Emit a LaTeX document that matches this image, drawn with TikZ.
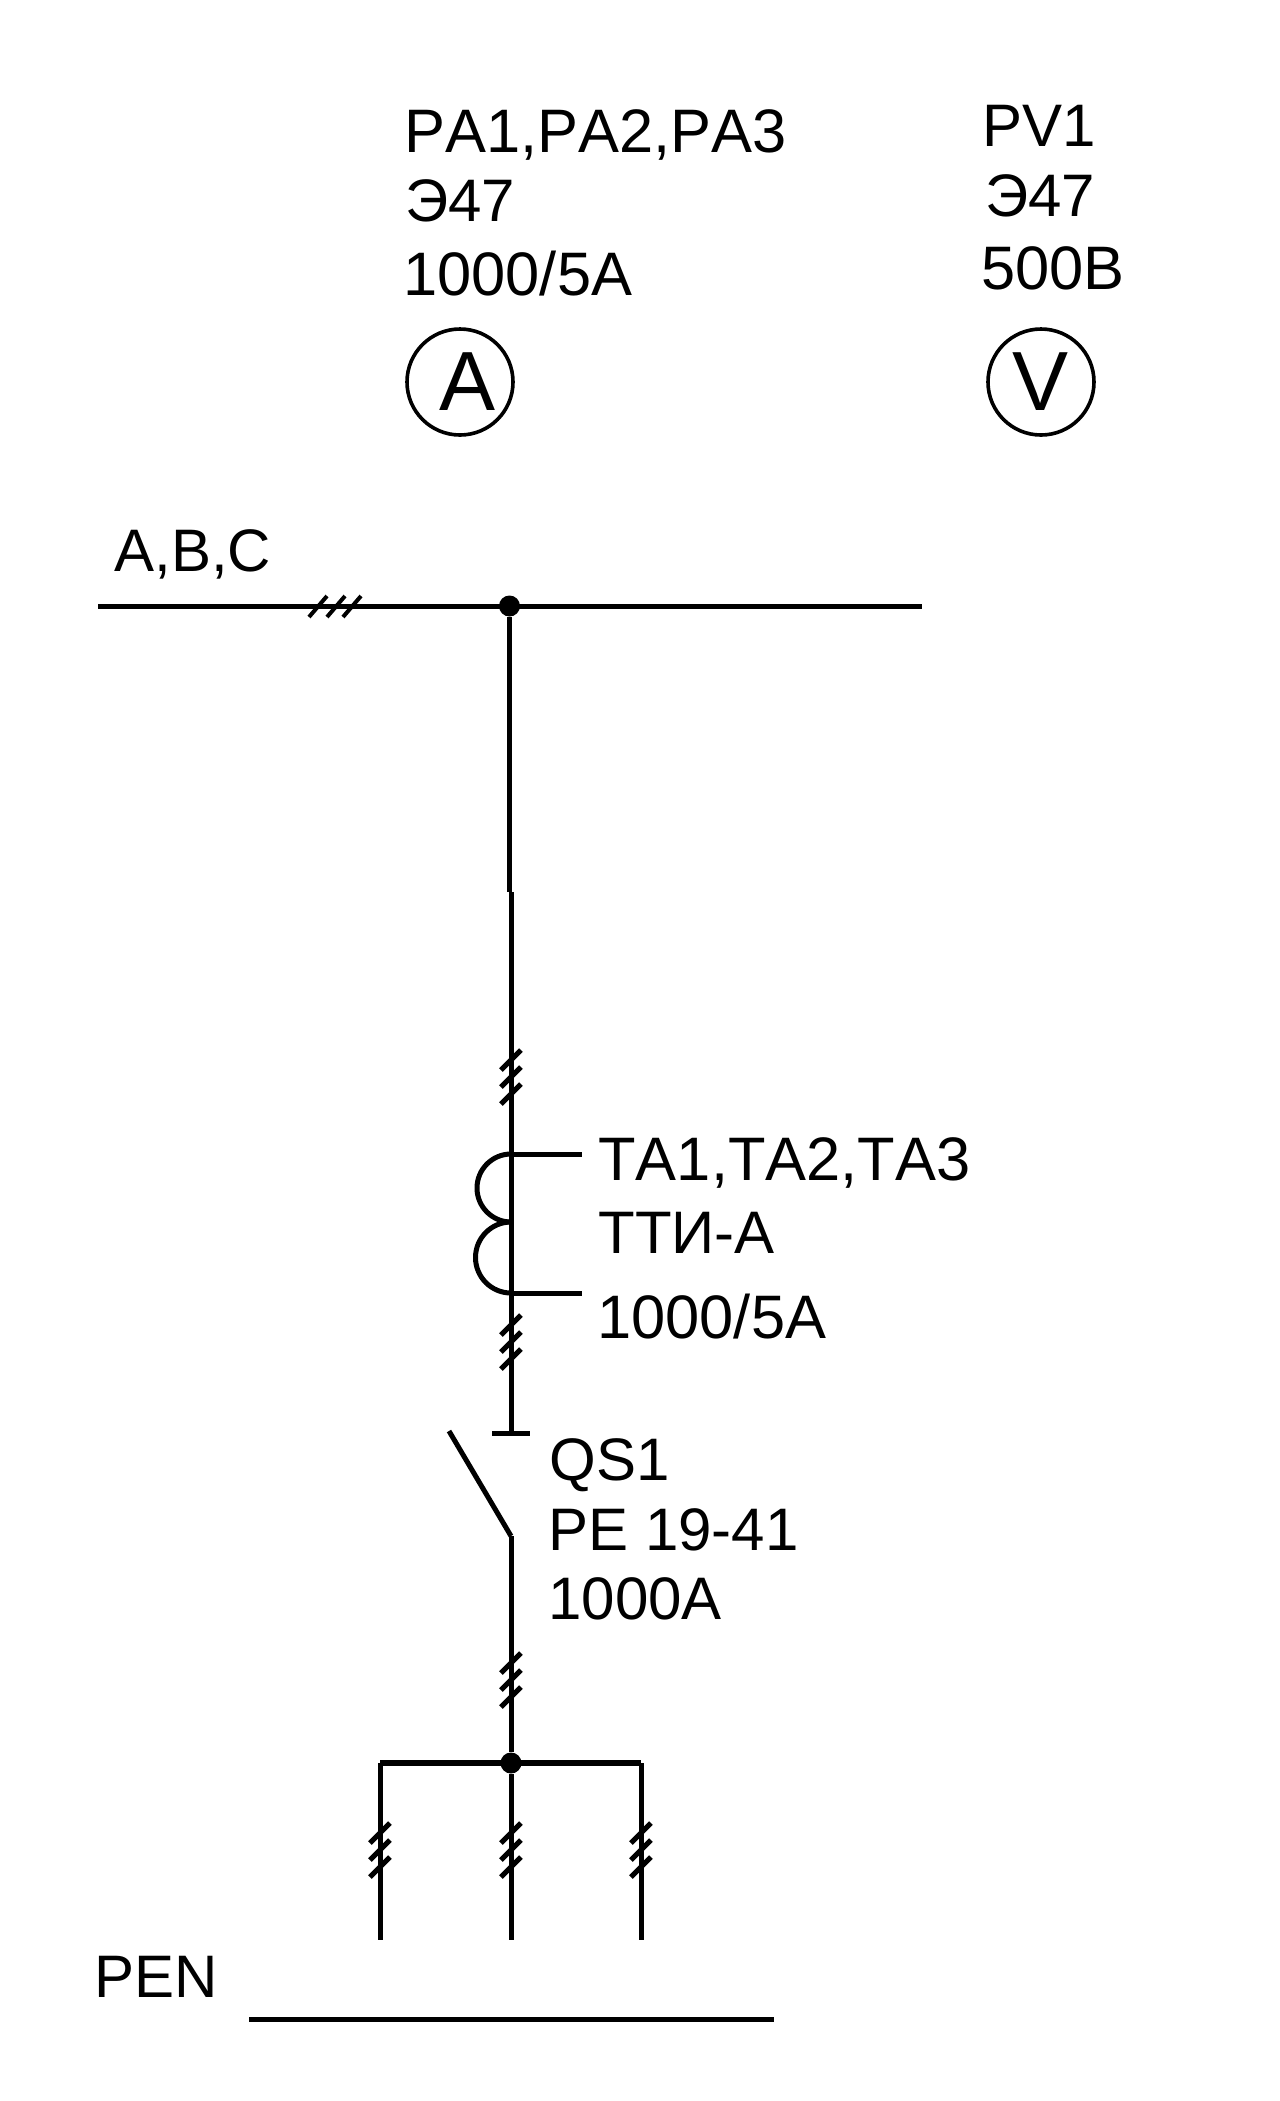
\documentclass[tikz,border=0pt]{standalone}
\usepackage{fontspec}
\setmainfont[Kerning=Off]{Liberation Sans}
\tikzset{
    wire/.style={line width=2.5pt},
    txt/.style={anchor=base west, inner sep=0pt, font=\fontsize{30}{36}\selectfont},
    widetxt/.style={txt, font=\fontsize{30.7}{36}\selectfont},
    meter/.style={draw, circle, line width=1.8pt, inner sep=0pt, minimum size=53pt, font=\fontsize{42}{50}\selectfont},
    dot/.style={circle, fill=black, inner sep=0pt, minimum size=10.5pt},
    ticks/.pic={
        \draw[wire] (-10,27) -- (10,7);
        \draw[wire] (-10,10) -- (10,-10);
        \draw[wire] (-10,-7) -- (10,-27);
    }
}
\begin{document}
\begin{tikzpicture}[x=0.5pt, y=-0.5pt]
    \useasboundingbox (0,0) rectangle (1280,2101);

    \node[widetxt] (paname) at (404,152) {PA1,PA2,PA3};
    \node[txt] (patype) at (405,221) {Э47};
    \node[widetxt] (parate) at (403,295) {1000/5A};
    \node[meter] (pa) at (460,382) {\hspace{8pt}A};

    \node[txt] (pvname) at (982,146) {PV1};
    \node[txt] (pvtype) at (985,216) {Э47};
    \node[widetxt] (pvrate) at (981,289) {500В};
    \node[meter] (pv) at (1041,382) {\raisebox{-3pt}{V}};

    \node[txt] (busname) at (114,571) {A,B,C};
    \coordinate (busl) at (98,606);
    \coordinate (busr) at (922,606);
    \node[dot] (jn1) at (509.5,606) {};
    \draw[wire] (busl) -- (busr);
    \draw[line width=2pt] (309,617) -- (327,596);
    \draw[line width=2pt] (327,617) -- (345,596);
    \draw[line width=2pt] (343,617) -- (361,596);

    \coordinate (jogu) at (509.5,892);
    \coordinate (jogl) at (511.5,892);
    \coordinate (contact) at (511.5,1433);
    \draw[wire] (jn1) -- (jogu);
    \draw[wire] (jogl) -- (contact);
    \pic at (511,1077) {ticks};
    \pic at (511,1342) {ticks};

    \coordinate (cointop) at (511,1154);
    \coordinate (coinmid) at (511,1222);
    \coordinate (leadtop) at (582,1154);
    \coordinate (leadbot) at (582,1293);
    \coordinate (coinbot) at (511,1293);
    \draw[wire] (cointop) arc (270:90:34);
    \draw[wire] (coinmid) arc (270:90:35.5);
    \draw[wire] (cointop) -- (leadtop);
    \draw[wire] (coinbot) -- (leadbot);
    \node[widetxt] (taname) at (598,1180) {TA1,TA2,TA3};
    \node[txt] (tatype) at (598,1253) {ТТИ-А};
    \node[widetxt] (tarate) at (597,1338) {1000/5A};

    \coordinate (barl) at (492,1433);
    \coordinate (barr) at (530,1433);
    \draw[wire] (barl) -- (barr);
    \coordinate (bladetop) at (449,1431);
    \coordinate (bladebot) at (511,1536);
    \draw[wire] (bladetop) -- (bladebot);
    \node[txt] (qsname) at (549,1480) {QS1};
    \node[txt] (qstype) at (548,1550) {PE 19-41};
    \node[txt] (qsrate) at (548,1619) {1000A};

    \node[dot] (jn2) at (511,1763) {};
    \draw[wire] (bladebot) -- (jn2);
    \pic at (511,1680) {ticks};

    \coordinate (branchl) at (380,1763);
    \coordinate (branchr) at (641,1763);
    \coordinate (endl) at (380,1940);
    \coordinate (endm) at (511,1940);
    \coordinate (endr) at (641,1940);
    \draw[line width=3pt] (branchl) -- (branchr);
    \draw[wire] (branchl) -- (endl);
    \draw[wire] (jn2) -- (endm);
    \draw[wire] (branchr) -- (endr);
    \pic at (380,1850) {ticks};
    \pic at (511,1850) {ticks};
    \pic at (641,1850) {ticks};

    \node[txt] (penname) at (94,1997) {PEN};
    \coordinate (penl) at (249,2019);
    \coordinate (penr) at (774,2019);
    \draw[wire] (penl) -- (penr);
\end{tikzpicture}
\end{document}
